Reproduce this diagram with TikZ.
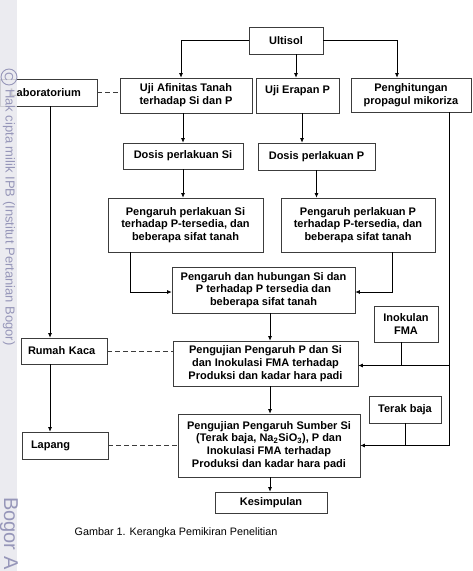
\documentclass[tikz,border=0pt]{standalone}
\usepackage{fontspec}
\setmainfont{Liberation Sans}
\usetikzlibrary{arrows.meta,calc}
\definecolor{wmstrip}{RGB}{232,232,238}
\definecolor{wmtext}{RGB}{150,150,185}
\definecolor{garis}{RGB}{60,60,60}

\begin{document}
\begin{tikzpicture}[x=1pt,y=-1pt,
    kotak/.style={draw=garis, line width=0.7pt, align=center, inner sep=2pt,
      font=\fontsize{11}{12.8}\selectfont\bfseries},
    panah/.style={line width=0.7pt, -{Latex[length=4.5pt,width=4pt]}},
    putus/.style={line width=0.7pt, draw=garis, dash pattern=on 5pt off 3pt}]
  \clip (0,0) rectangle (472,571);
  \fill[white] (0,0) rectangle (472,571);
  % sumbu bantu untuk garis tegak
  \coordinate (tengah) at (270,0);
  \coordinate (kiri) at (50,0);
  \coordinate (kanan) at (449,0);
  % kotak-kotak
  \node[kotak, minimum width=74pt, minimum height=27pt] (ultisol) at (286,40.5) {Ultisol};
  \node[kotak, minimum width=132pt, minimum height=35pt] (afinitas) at (186,95.5) {Uji Afinitas Tanah\\terhadap Si dan P};
  \node[kotak, minimum width=83pt, minimum height=35pt] (erapan) at (297.5,95.5) {Uji Erapan P\\\mbox{}};
  \node[kotak, minimum width=120pt, minimum height=34pt] (hitung) at (411,95) {Penghitungan\\propagul mikoriza};
  \node[kotak, text width=77pt, inner xsep=10pt, align=left, minimum height=27pt] (lab) at (48.5,92.5) {Laboratorium};
  \node[kotak, minimum width=120pt, minimum height=26pt] (dosissi) at (183,156) {Dosis perlakuan Si};
  \node[kotak, minimum width=117pt, minimum height=27pt] (dosisp) at (316.5,156.5) {Dosis perlakuan P};
  \node[kotak, minimum width=155pt, minimum height=54pt] (efeksi) at (185.5,225) {Pengaruh perlakuan Si\\terhadap P-tersedia, dan\\beberapa sifat tanah};
  \node[kotak, minimum width=154pt, minimum height=54pt] (efekp) at (358,225) {Pengaruh perlakuan P\\terhadap P-tersedia, dan\\beberapa sifat tanah};
  \node[kotak, minimum width=183pt, minimum height=46pt] (hubungan) at (263.5,290) {Pengaruh dan hubungan Si dan\\P terhadap P tersedia dan\\beberapa sifat tanah};
  \node[kotak, minimum width=64pt, minimum height=36pt] (inokulan) at (406,324) {Inokulan\\FMA};
  \node[kotak, minimum width=185pt, minimum height=45pt] (uji1) at (265.5,363.5) {Pengujian Pengaruh P dan Si\\dan Inokulasi FMA terhadap\\Produksi dan kadar hara padi};
  \node[kotak, text width=72pt, inner xsep=7pt, align=left, minimum height=26pt] (rumah) at (64,351) {Rumah Kaca};
  \node[kotak, minimum width=72pt, minimum height=27pt] (terak) at (405,409.5) {Terak baja};
  \node[kotak, minimum width=182pt, minimum height=63pt] (uji2) at (269,445.5) {Pengujian Pengaruh Sumber Si\\(Terak baja, Na\textsubscript{2}SiO\textsubscript{3}), P dan\\Inokulasi FMA terhadap\\Produksi dan kadar hara padi};
  \node[kotak, text width=68pt, inner xsep=9pt, align=left, minimum height=27pt] (lapang) at (65,445.5) {Lapang};
  \node[kotak, minimum width=112pt, minimum height=21pt] (simpul) at (271,502.5) {Kesimpulan};
  \node[font=\fontsize{10.8}{12.8}\selectfont] (judul) at (176,533) {Gambar 1. Kerangka Pemikiran Penelitian};
  % panah dari Ultisol
  \draw[panah] (ultisol.west) -| ([xshift=-5pt]afinitas.north);
  \draw[panah] ([xshift=10pt]ultisol.south) -- ([xshift=10pt]ultisol.south |- erapan.north);
  \draw[panah] (ultisol.east) -| ([xshift=-14pt]hitung.north);
  % jalur laboratorium
  \draw[panah] (dosissi.north |- afinitas.south) -- (dosissi.north);
  \draw[panah] ([xshift=4.5pt]erapan.south) -- ([xshift=4.5pt]erapan.south |- dosisp.north);
  \draw[panah] (dosissi.south) -- (dosissi.south |- efeksi.north);
  \draw[panah] (dosisp.south) -- (dosisp.south |- efekp.north);
  \draw[panah] ([xshift=-55pt]efeksi.south) |- ([yshift=-2pt]hubungan.west);
  \draw[panah] ([xshift=34pt]efekp.south) |- ([yshift=-2pt]hubungan.east);
  \draw[panah] (hubungan.south -| tengah) -- (uji1.north -| tengah);
  \draw[panah] (uji1.south -| tengah) -- (uji2.north -| tengah);
  \draw[panah] (uji2.south -| tengah) -- (simpul.north -| tengah);
  % kolom kiri
  \draw[panah] (lab.south -| kiri) -- (rumah.north -| kiri);
  \draw[panah] (rumah.south -| kiri) -- (lapang.north -| kiri);
  \draw[putus] (lab.east) -- (lab.east -| afinitas.west);
  \draw[putus] (rumah.east) -- (rumah.east -| uji1.west);
  \draw[putus] (lapang.east) -- (lapang.east -| uji2.west);
  % kolom kanan
  \draw[panah] (hitung.south -| kanan) -- (kanan |- uji2.east) -- (uji2.east);
  \draw[panah] ([yshift=-2pt]kanan |- uji1.east) -- ([yshift=-2pt]uji1.east);
  \draw[line width=0.7pt] ([xshift=-5pt]inokulan.south) -- ([xshift=-5pt,yshift=-2pt]inokulan.south |- uji1.east);
  \draw[line width=0.7pt] (terak.south) -- (terak.south |- uji2.east);
  % tanda air di tepi kiri
  \fill[wmstrip, fill opacity=0.85] (0,0) rectangle (17,571);
  \node[circle, draw=wmtext, line width=0.9pt, inner sep=0.5pt, minimum size=16pt, text=wmtext,
    font=\fontsize{12}{12}\selectfont, rotate=-90] (hakcipta) at (9,77) {C};
  \node[rotate=-90, anchor=west, inner sep=0pt, text=wmtext, font=\fontsize{13}{13}\selectfont] (wm) at (9,89) {Hak cipta milik IPB (Institut Pertanian Bogor)};
  \node[rotate=-90, anchor=west, inner sep=0pt, text=wmtext, font=\fontsize{20}{20}\selectfont] (wmbogor) at (9,497) {Bogor A};
\end{tikzpicture}
\end{document}
